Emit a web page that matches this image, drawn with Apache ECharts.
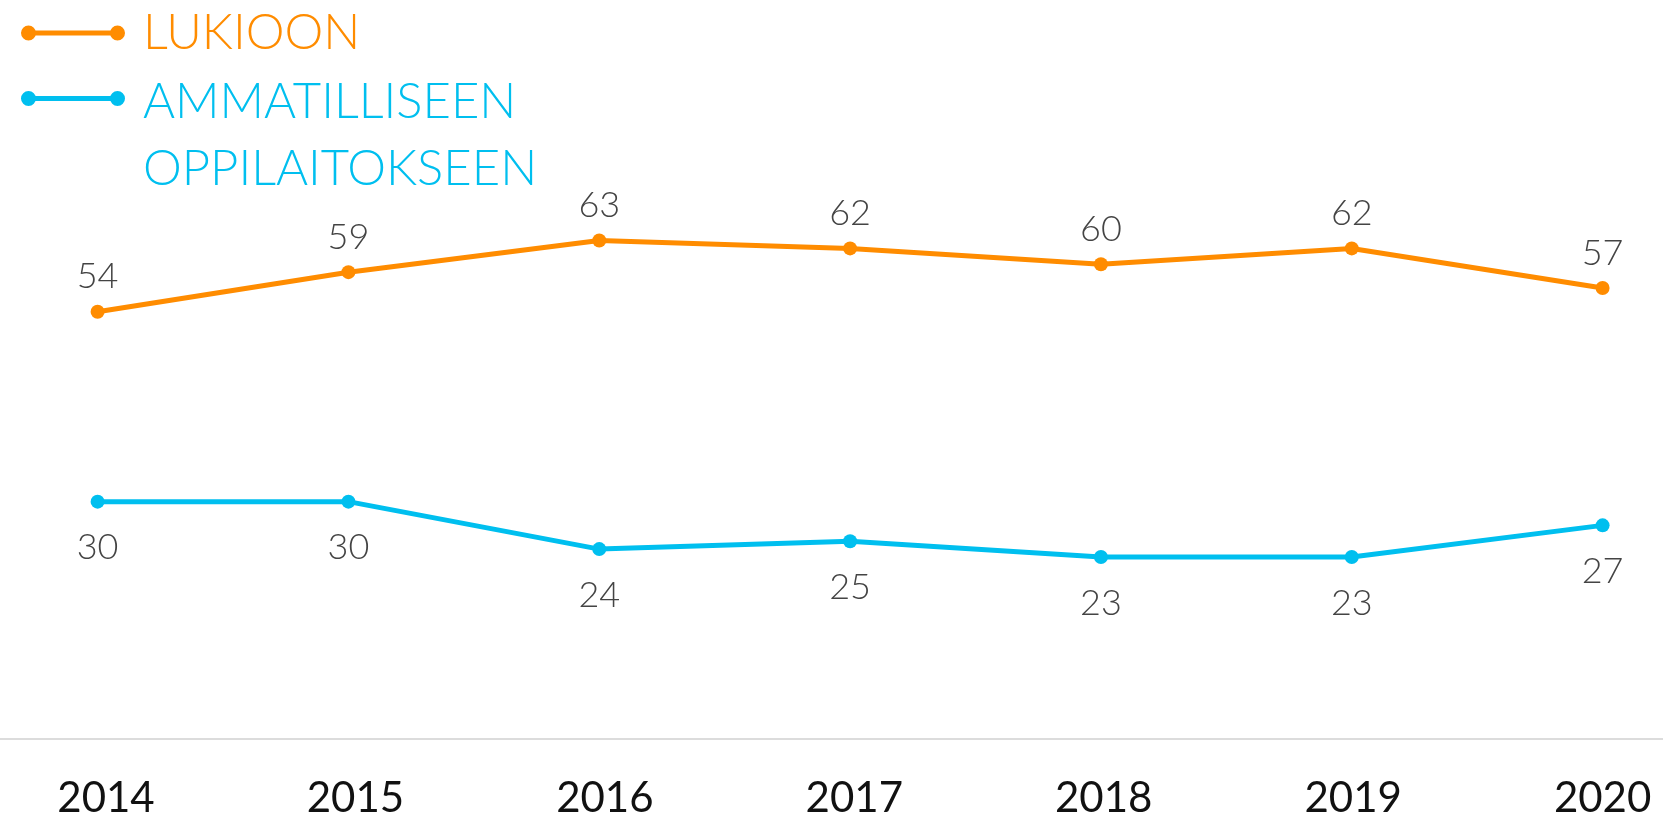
<!DOCTYPE html>
<html>
<head>
<meta charset="utf-8">
<script src="https://cdn.jsdelivr.net/npm/echarts@6/dist/echarts.min.js"></script>
<style>
  html, body { margin: 0; padding: 0; background: #fff; }
  #chart { width: 1663px; height: 819px; }
</style>
</head>
<body>
<div id="chart"></div>
<script>
var years = ["2014", "2015", "2016", "2017", "2018", "2019", "2020"];
var lukioon = [54, 59, 63, 62, 60, 62, 57];
var ammatilliseen = [30, 30, 24, 25, 23, 23, 27];
var seriesNames = ["LUKIOON", "AMMATILLISEEN\nOPPILAITOKSEEN"];

var orange = "#ff8c00";
var blue = "#00bfef";
// legend icon: line with a dot at each end
var legendIcon = "path://M0,7.5A7.5,7.5,0,1,1,15,7.5A7.5,7.5,0,1,1,0,7.5Z" +
  "M7.5,5L96.5,5L96.5,10L7.5,10Z" +
  "M89,7.5A7.5,7.5,0,1,1,104,7.5A7.5,7.5,0,1,1,89,7.5Z";

var myChart = echarts.init(document.getElementById("chart"));

var legendText = {
  fontFamily: "Lato",
  fontWeight: 300,
  fontSize: 49
};

var labelFont = {
  color: "#444",
  fontFamily: "Lato",
  fontWeight: 300,
  fontSize: 36
};

var option = {
  animation: false,
  backgroundColor: "#fff",
  legend: [
    {
      data: [seriesNames[0]],
      left: 16,
      top: -2,
      icon: legendIcon,
      itemWidth: 104,
      itemHeight: 15,
      textStyle: Object.assign({ color: orange, lineHeight: 60, padding: [0, 0, 0, 13] }, legendText)
    },
    {
      data: [seriesNames[1]],
      left: 16,
      top: 2,
      icon: legendIcon,
      itemWidth: 104,
      itemHeight: 15,
      // empty first line so the icon sits beside the first text line
      formatter: function (name) {
        return "{s|\u00a0}\n" + name.split("\n").map(function (t) {
          return "{t|" + t + "}";
        }).join("\n");
      },
      textStyle: Object.assign({
        color: blue,
        padding: [0, 0, 0, 13],
        rich: {
          s: Object.assign({ color: blue, lineHeight: 75 }, legendText),
          t: Object.assign({ color: blue, lineHeight: 67 }, legendText)
        }
      }, legendText)
    }
  ],
  grid: [
    { left: 97.6, right: 60.4, top: 106, bottom: 80 },
    // full width grid for the base line
    { left: 0, right: 0, top: 106, bottom: 80 },
    // grid for the year labels
    { left: 106, right: 60.4, top: 106, bottom: 80 }
  ],
  xAxis: [
    {
      type: "category",
      data: years,
      boundaryGap: false,
      axisLine: { show: false },
      axisTick: { show: false },
      axisLabel: { show: false }
    },
    {
      gridIndex: 1,
      type: "value",
      min: 0,
      max: 1,
      axisLine: { show: true, lineStyle: { color: "#dcdcdc", width: 2 } },
      axisTick: { show: false },
      axisLabel: { show: false },
      splitLine: { show: false }
    },
    {
      gridIndex: 2,
      type: "category",
      data: years,
      boundaryGap: false,
      axisLine: { show: false },
      axisTick: { show: false },
      axisLabel: {
        interval: 0,
        margin: 40,
        color: "#111",
        fontFamily: "Lato",
        fontSize: 42
      }
    }
  ],
  yAxis: [
    { type: "value", min: 0, max: 80, show: false },
    { gridIndex: 1, type: "value", min: 0, max: 1, show: false },
    { gridIndex: 2, type: "value", min: 0, max: 1, show: false }
  ],
  series: [
    {
      name: seriesNames[0],
      type: "line",
      data: lukioon,
      symbol: "circle",
      symbolSize: 14,
      itemStyle: { color: orange },
      lineStyle: { color: orange, width: 5 },
      label: Object.assign({ show: true, position: "top", distance: 10 }, labelFont)
    },
    {
      name: seriesNames[1],
      type: "line",
      data: ammatilliseen,
      symbol: "circle",
      symbolSize: 14,
      itemStyle: { color: blue },
      lineStyle: { color: blue, width: 5 },
      label: Object.assign({ show: true, position: "bottom", distance: 21 }, labelFont)
    }
  ]
};

myChart.setOption(option);
</script>
</body>
</html>
